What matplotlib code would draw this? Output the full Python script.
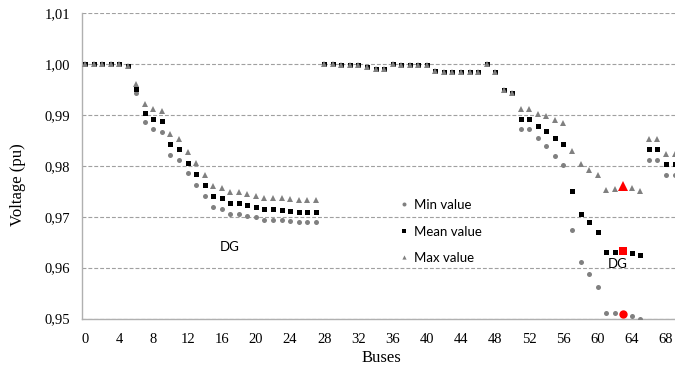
import numpy as np
import matplotlib
matplotlib.use("Agg")
import matplotlib.pyplot as plt
from matplotlib.ticker import FuncFormatter, MultipleLocator

# bus voltages (pu), buses 0..69
buses = np.arange(70)

flat_28_50 = [1.0000, 0.9999, 0.9998, 0.9997, 0.9997, 0.9993, 0.9990, 0.9990,
              1.0000, 0.9998, 0.9997, 0.9997, 0.9997, 0.9987, 0.9985, 0.9985,
              0.9985, 0.9984, 0.9984, 1.0000, 0.9985, 0.9948, 0.9943]

min_v = ([1.0000, 1.0000, 1.0000, 1.0000, 1.0000, 0.9996,
          0.9943, 0.9886, 0.9872, 0.9867, 0.9822, 0.9812, 0.9786, 0.9763,
          0.9741, 0.9720, 0.9716, 0.9706, 0.9706, 0.9702, 0.9700, 0.9694,
          0.9694, 0.9694, 0.9692, 0.9689, 0.9689, 0.9689]
         + flat_28_50 +
         [0.9872, 0.9872, 0.9854, 0.9839, 0.9820, 0.9802, 0.9674, 0.9612,
          0.9588, 0.9561, 0.9510, 0.9510, 0.9508, 0.9505, 0.9499, 0.9812,
          0.9812, 0.9782, 0.9782])

mean_v = ([1.0000, 1.0000, 1.0000, 1.0000, 1.0000, 0.9996,
           0.9950, 0.9903, 0.9892, 0.9887, 0.9842, 0.9833, 0.9806, 0.9783,
           0.9762, 0.9740, 0.9737, 0.9727, 0.9727, 0.9723, 0.9720, 0.9715,
           0.9715, 0.9714, 0.9711, 0.9710, 0.9710, 0.9710]
          + flat_28_50 +
          [0.9891, 0.9891, 0.9878, 0.9868, 0.9855, 0.9842, 0.9750, 0.9706,
           0.9689, 0.9670, 0.9630, 0.9631, 0.9633, 0.9629, 0.9624, 0.9833,
           0.9833, 0.9804, 0.9804])

max_v = ([1.0000, 1.0000, 1.0000, 1.0000, 1.0000, 0.9996,
          0.9960, 0.9921, 0.9912, 0.9908, 0.9863, 0.9853, 0.9828, 0.9805,
          0.9782, 0.9761, 0.9757, 0.9748, 0.9748, 0.9744, 0.9741, 0.9737,
          0.9737, 0.9737, 0.9734, 0.9733, 0.9733, 0.9733]
         + flat_28_50 +
         [0.9912, 0.9912, 0.9902, 0.9897, 0.9890, 0.9884, 0.9829, 0.9804,
          0.9792, 0.9782, 0.9752, 0.9755, 0.9760, 0.9756, 0.9751, 0.9853,
          0.9853, 0.9823, 0.9823])

dg_bus = 63
dg_labels = [(16.9, 0.9641), (62.4, 0.9608)]

min_v = np.array(min_v)
mean_v = np.array(mean_v)
max_v = np.array(max_v)

serif = ['Liberation Serif', 'DejaVu Serif']
sans = ['Lato', 'DejaVu Sans']
gray = '#808080'

fig = plt.figure(figsize=(6.75, 3.67), dpi=100)
ax = fig.add_axes([0.1215, 0.132, 0.8785, 0.8326])

ax.plot(buses, min_v, 'o', color=gray, ms=3.6, mew=0, label='Min value', zorder=3)
ax.plot(buses, mean_v, 's', color='black', ms=3.6, mew=0, label='Mean value', zorder=4)
ax.plot(buses, max_v, '^', color=gray, ms=3.8, mew=0, label='Max value', zorder=5)

# DG bus highlighted in red
ax.plot(buses[dg_bus], min_v[dg_bus], 'o', color='#ff0000', ms=6, mew=0, zorder=6)
ax.plot(buses[dg_bus], mean_v[dg_bus], 's', color='#ff0000', ms=6, mew=0, zorder=6)
ax.plot(buses[dg_bus], max_v[dg_bus], '^', color='#ff0000', ms=6.5, mew=0, zorder=6)

for x, y in dg_labels:
    ax.text(x, y, 'DG', family=sans, fontsize=9.5, ha='center', va='center')

ax.set_xlim(-0.35, 69.05)
ax.set_ylim(0.95, 1.01)
ax.xaxis.set_major_locator(MultipleLocator(4))
ax.yaxis.set_major_locator(MultipleLocator(0.01))
ax.yaxis.set_major_formatter(FuncFormatter(lambda v, p: f"{v:.2f}".replace('.', ',')))

ax.grid(axis='y', color='#a0a0a0', linestyle=(0, (3.5, 1.8)), linewidth=0.8)
ax.set_axisbelow(True)
for s in ['top', 'right']:
    ax.spines[s].set_visible(False)
for s in ['left', 'bottom']:
    ax.spines[s].set_color('#b0b0b0')
    ax.spines[s].set_linewidth(1.0)

ax.tick_params(axis='x', length=0, pad=10.5, labelsize=10.5)
ax.tick_params(axis='y', length=0, pad=8.5, labelsize=10.5)
for lab in ax.get_xticklabels() + ax.get_yticklabels():
    lab.set_family(serif)

fig.text(381 / 675, 1 - 357.5 / 367, 'Buses', family=serif, fontsize=12,
         ha='center', va='center')
fig.text(17.5 / 675, 1 - 185 / 367, 'Voltage (pu)', family=serif, fontsize=12,
         ha='center', va='center', rotation=90)

leg = ax.legend(loc='center left', bbox_to_anchor=(400 / 675, 1 - 231.5 / 367),
                bbox_transform=fig.transFigure, frameon=False,
                prop={'family': sans, 'size': 9.5}, handlelength=0.6,
                handletextpad=0.45, labelspacing=1.1, borderpad=0,
                borderaxespad=0, markerscale=0.8)

fig.savefig('out.png', dpi=100)
